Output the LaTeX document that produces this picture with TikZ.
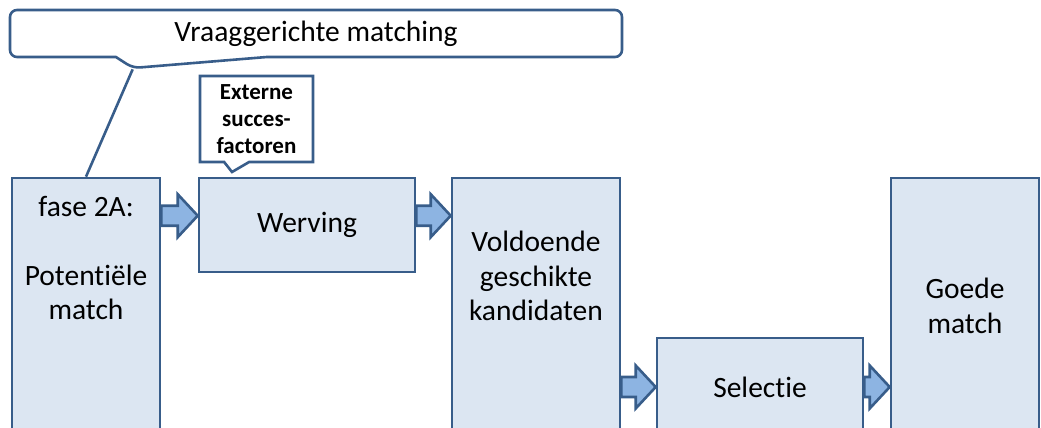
\documentclass[tikz,border=0pt]{standalone}
\usepackage{fontspec}
\setmainfont{Carlito}[RawFeature=-liga]
\usepackage{tikz}
\usetikzlibrary{calc,shapes.callouts}
\definecolor{rand}{RGB}{56,93,138}
\definecolor{vulling}{RGB}{220,230,242}
\definecolor{pijlvul}{RGB}{141,180,226}

% blokpijl van punt #1 naar punt #2 (zelfde hoogte)
\newcommand{\blokpijl}[2]{%
  \draw[pijl] let \p1=(#1), \p2=(#2) in
    (\x1,\y1+10pt) -- (\x2-20pt,\y1+10pt) -- (\x2-20pt,\y1+21.5pt) -- (\x2,\y1)
    -- (\x2-20pt,\y1-21.5pt) -- (\x2-20pt,\y1-10pt) -- (\x1,\y1-10pt) -- cycle;}

\begin{document}
\begin{tikzpicture}[x=1pt, y=-1pt,
  vak/.style={draw=rand, fill=vulling, line width=2.6pt, inner sep=0pt,
    font=\fontsize{29.5}{34.5}\selectfont},
  tekst/.style={font=\fontsize{29.5}{34.5}\selectfont, align=center},
  wolk/.style={rectangle callout, draw=rand, fill=white, line width=2.6pt,
    inner sep=0pt, align=center},
  pijl/.style={draw=rand, fill=pijlvul, line width=2.6pt}]
\clip (0,0) rectangle (1041,428);
% Fasen
\node[vak, minimum width=148pt, minimum height=290pt] (fase) at (86,323) {};
\node[tekst] (fasetekst) at (86,258) {fase 2A:\\[34.5pt]Potentiële\\match};
\node[vak, minimum width=216pt, minimum height=94pt] (werving) at (307,225) {Werving};
\node[vak, minimum width=168pt, minimum height=290pt] (voldoende) at (536,323) {};
\node[tekst] (voldoendetekst) at (536,276) {Voldoende\\geschikte\\kandidaten};
\node[vak, minimum width=206pt, minimum height=98pt] (selectie) at (760,387) {Selectie};
\node[vak, minimum width=148pt, minimum height=290pt] (goede) at (965,323) {};
\node[tekst] (goedetekst) at (965,306) {Goede\\match};
% Pijlen tussen de fasen
\coordinate (p1) at ($(fase.north east)+(0,39)$);
\blokpijl{p1}{werving.west |- p1}
\blokpijl{werving.east |- p1}{voldoende.west |- p1}
\blokpijl{voldoende.east |- selectie.west}{selectie.west}
\blokpijl{selectie.east}{goede.west |- selectie.east}
% Toelichtingen
\node[wolk, rounded corners=7pt, font=\fontsize{29.5}{34.5}\selectfont,
  minimum width=612pt, minimum height=47pt,
  callout absolute pointer={(133,68)}, callout pointer width=151pt]
  (vraag) at (316,33.5) {Vraaggerichte matching};
\draw[rand, line width=2.6pt] (vraag.pointer) -- (fase.north);
\node[wolk, font=\bfseries\fontsize{23}{27}\selectfont,
  minimum width=113pt, minimum height=86pt,
  callout absolute pointer={(232,172)}, callout pointer width=25pt]
  (extern) at (256.5,119) {Externe\\succes-\\factoren};
\end{tikzpicture}
\end{document}
